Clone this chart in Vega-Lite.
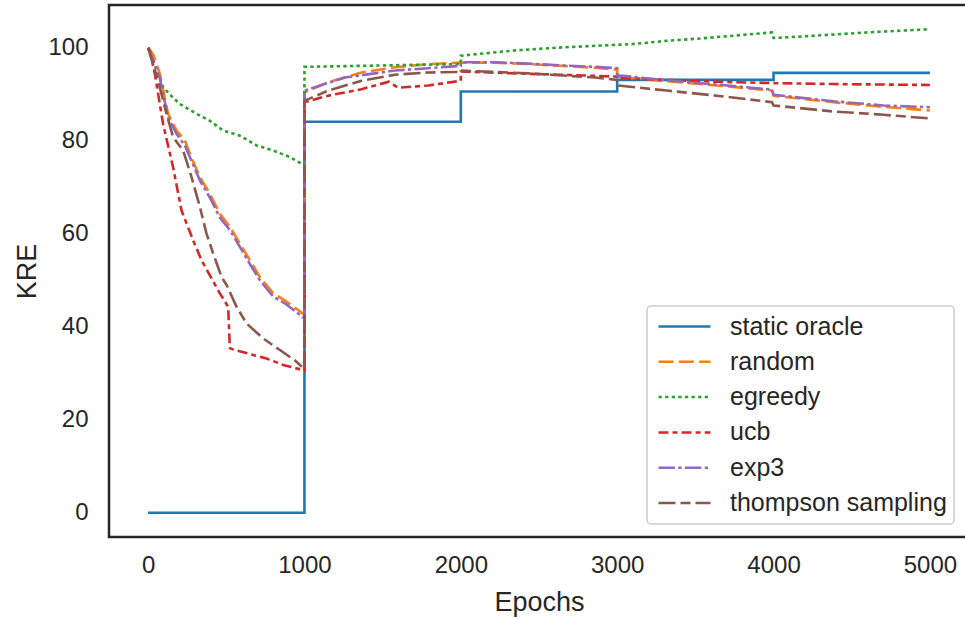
{
  "$schema": "https://vega.github.io/schema/vega-lite/v6.json",
  "autosize": {"type": "none"},
  "padding": {"left": 109, "top": 5, "right": 0, "bottom": 82},
  "width": 860,
  "height": 532,
  "background": "white",
  "config": {
    "view": {"stroke": "#262626", "strokeWidth": 2.5},
    "font": "Liberation Sans",
    "axis": {"grid": false, "domain": false, "ticks": false, "labelColor": "#262626", "titleColor": "#262626", "labelFont": "Liberation Sans", "titleFont": "Liberation Sans", "titleFontWeight": "normal"},
    "legend": {
      "symbolType": "stroke", "symbolSize": 2704, "symbolStrokeWidth": 2.5,
      "labelFontSize": 25, "labelColor": "#262626", "labelOffset": 18, "labelLimit": 400,
      "clipHeight": 27, "rowPadding": 8.3, "padding": 7, "symbolOffset": 3,
      "fillColor": "white", "strokeColor": "#cccccc", "cornerRadius": 4, "strokeWidth": 1.5
    }
  },
  "datasets": {
    "runs": [
      {"s":"static oracle","i":0,"e":0,"v":0},
      {"s":"static oracle","i":1,"e":1000,"v":0},
      {"s":"static oracle","i":2,"e":1000,"v":84.1},
      {"s":"static oracle","i":3,"e":2000,"v":84.1},
      {"s":"static oracle","i":4,"e":2000,"v":90.6},
      {"s":"static oracle","i":5,"e":3000,"v":90.6},
      {"s":"static oracle","i":6,"e":3000,"v":93.1},
      {"s":"static oracle","i":7,"e":4000,"v":93.1},
      {"s":"static oracle","i":8,"e":4000,"v":94.6},
      {"s":"static oracle","i":9,"e":5000,"v":94.6},

      {"s":"random","i":0,"e":0,"v":100},
      {"s":"random","i":1,"e":32,"v":98.6},
      {"s":"random","i":2,"e":75,"v":94.4},
      {"s":"random","i":3,"e":128,"v":85.8},
      {"s":"random","i":4,"e":182,"v":82.2},
      {"s":"random","i":5,"e":235,"v":80.1},
      {"s":"random","i":6,"e":267,"v":77.2},
      {"s":"random","i":7,"e":331,"v":72.2},
      {"s":"random","i":8,"e":395,"v":68.6},
      {"s":"random","i":9,"e":459,"v":64.3},
      {"s":"random","i":10,"e":523,"v":61.5},
      {"s":"random","i":11,"e":587,"v":57.9},
      {"s":"random","i":12,"e":651,"v":54.3},
      {"s":"random","i":13,"e":715,"v":50.7},
      {"s":"random","i":14,"e":800,"v":47.2},
      {"s":"random","i":15,"e":885,"v":45.4},
      {"s":"random","i":16,"e":1000,"v":42.6},
      {"s":"random","i":17,"e":1000,"v":90.4},
      {"s":"random","i":18,"e":1152,"v":92.6},
      {"s":"random","i":19,"e":1365,"v":94.7},
      {"s":"random","i":20,"e":1578,"v":95.8},
      {"s":"random","i":21,"e":1792,"v":96.5},
      {"s":"random","i":22,"e":2000,"v":96.8},
      {"s":"random","i":23,"e":2218,"v":96.8},
      {"s":"random","i":24,"e":2431,"v":96.5},
      {"s":"random","i":25,"e":2645,"v":96.1},
      {"s":"random","i":26,"e":2858,"v":95.7},
      {"s":"random","i":27,"e":3000,"v":95.3},
      {"s":"random","i":28,"e":3000,"v":93.8},
      {"s":"random","i":29,"e":3317,"v":92.8},
      {"s":"random","i":30,"e":3637,"v":91.9},
      {"s":"random","i":31,"e":3990,"v":90.8},
      {"s":"random","i":32,"e":4000,"v":89.7},
      {"s":"random","i":33,"e":4383,"v":88.3},
      {"s":"random","i":34,"e":4703,"v":87.3},
      {"s":"random","i":35,"e":5000,"v":86.5},

      {"s":"egreedy","i":0,"e":0,"v":100},
      {"s":"egreedy","i":1,"e":32,"v":97.2},
      {"s":"egreedy","i":2,"e":96,"v":91.5},
      {"s":"egreedy","i":3,"e":150,"v":89.6},
      {"s":"egreedy","i":4,"e":203,"v":87.9},
      {"s":"egreedy","i":5,"e":310,"v":85.8},
      {"s":"egreedy","i":6,"e":395,"v":84.3},
      {"s":"egreedy","i":7,"e":480,"v":82.2},
      {"s":"egreedy","i":8,"e":587,"v":81.1},
      {"s":"egreedy","i":9,"e":694,"v":79.0},
      {"s":"egreedy","i":10,"e":800,"v":77.9},
      {"s":"egreedy","i":11,"e":907,"v":76.5},
      {"s":"egreedy","i":12,"e":1000,"v":74.7},
      {"s":"egreedy","i":13,"e":1000,"v":95.9},
      {"s":"egreedy","i":14,"e":1500,"v":96.2},
      {"s":"egreedy","i":15,"e":2000,"v":96.5},
      {"s":"egreedy","i":16,"e":2000,"v":98.3},
      {"s":"egreedy","i":17,"e":2335,"v":99.4},
      {"s":"egreedy","i":18,"e":2655,"v":100.1},
      {"s":"egreedy","i":19,"e":2973,"v":100.6},
      {"s":"egreedy","i":20,"e":3101,"v":100.8},
      {"s":"egreedy","i":21,"e":3317,"v":101.5},
      {"s":"egreedy","i":22,"e":3530,"v":102.0},
      {"s":"egreedy","i":23,"e":3743,"v":102.6},
      {"s":"egreedy","i":24,"e":3990,"v":103.3},
      {"s":"egreedy","i":25,"e":4000,"v":102.1},
      {"s":"egreedy","i":26,"e":4169,"v":102.4},
      {"s":"egreedy","i":27,"e":4596,"v":103.3},
      {"s":"egreedy","i":28,"e":5000,"v":104.0},

      {"s":"ucb","i":0,"e":0,"v":100},
      {"s":"ucb","i":1,"e":11,"v":99.5},
      {"s":"ucb","i":2,"e":43,"v":94.4},
      {"s":"ucb","i":3,"e":96,"v":83.6},
      {"s":"ucb","i":4,"e":160,"v":74.3},
      {"s":"ucb","i":5,"e":214,"v":65.0},
      {"s":"ucb","i":6,"e":288,"v":58.6},
      {"s":"ucb","i":7,"e":342,"v":54.3},
      {"s":"ucb","i":8,"e":406,"v":50.4},
      {"s":"ucb","i":9,"e":459,"v":47.2},
      {"s":"ucb","i":10,"e":512,"v":44.3},
      {"s":"ucb","i":11,"e":523,"v":35.4},
      {"s":"ucb","i":12,"e":555,"v":35.0},
      {"s":"ucb","i":13,"e":757,"v":33.2},
      {"s":"ucb","i":14,"e":864,"v":31.8},
      {"s":"ucb","i":15,"e":1000,"v":30.6},
      {"s":"ucb","i":16,"e":1000,"v":88.3},
      {"s":"ucb","i":17,"e":1152,"v":89.7},
      {"s":"ucb","i":18,"e":1365,"v":91.1},
      {"s":"ucb","i":19,"e":1540,"v":92.7},
      {"s":"ucb","i":20,"e":1600,"v":91.4},
      {"s":"ucb","i":21,"e":1792,"v":91.9},
      {"s":"ucb","i":22,"e":2000,"v":92.9},
      {"s":"ucb","i":23,"e":2000,"v":94.9},
      {"s":"ucb","i":24,"e":2431,"v":94.4},
      {"s":"ucb","i":25,"e":2645,"v":94.2},
      {"s":"ucb","i":26,"e":3000,"v":93.8},
      {"s":"ucb","i":27,"e":3000,"v":93.5},
      {"s":"ucb","i":28,"e":3317,"v":93.1},
      {"s":"ucb","i":29,"e":3637,"v":92.7},
      {"s":"ucb","i":30,"e":4000,"v":92.4},
      {"s":"ucb","i":31,"e":4383,"v":92.2},
      {"s":"ucb","i":32,"e":5000,"v":92.0},

      {"s":"exp3","i":0,"e":0,"v":100},
      {"s":"exp3","i":1,"e":30,"v":97.5},
      {"s":"exp3","i":2,"e":75,"v":93.5},
      {"s":"exp3","i":3,"e":128,"v":85.0},
      {"s":"exp3","i":4,"e":182,"v":81.5},
      {"s":"exp3","i":5,"e":235,"v":79.0},
      {"s":"exp3","i":6,"e":267,"v":76.5},
      {"s":"exp3","i":7,"e":331,"v":71.5},
      {"s":"exp3","i":8,"e":395,"v":67.8},
      {"s":"exp3","i":9,"e":459,"v":63.5},
      {"s":"exp3","i":10,"e":523,"v":60.8},
      {"s":"exp3","i":11,"e":587,"v":57.2},
      {"s":"exp3","i":12,"e":651,"v":53.5},
      {"s":"exp3","i":13,"e":715,"v":50.0},
      {"s":"exp3","i":14,"e":800,"v":46.5},
      {"s":"exp3","i":15,"e":885,"v":44.8},
      {"s":"exp3","i":16,"e":1000,"v":41.8},
      {"s":"exp3","i":17,"e":1000,"v":90.8},
      {"s":"exp3","i":18,"e":1259,"v":93.6},
      {"s":"exp3","i":19,"e":1578,"v":95.1},
      {"s":"exp3","i":20,"e":2000,"v":96.1},
      {"s":"exp3","i":21,"e":2000,"v":96.9},
      {"s":"exp3","i":22,"e":2218,"v":96.9},
      {"s":"exp3","i":23,"e":2431,"v":96.6},
      {"s":"exp3","i":24,"e":2645,"v":96.2},
      {"s":"exp3","i":25,"e":2858,"v":95.9},
      {"s":"exp3","i":26,"e":3000,"v":95.6},
      {"s":"exp3","i":27,"e":3000,"v":94.1},
      {"s":"exp3","i":28,"e":3317,"v":93.0},
      {"s":"exp3","i":29,"e":3637,"v":92.1},
      {"s":"exp3","i":30,"e":3990,"v":91.0},
      {"s":"exp3","i":31,"e":4000,"v":89.9},
      {"s":"exp3","i":32,"e":4383,"v":88.5},
      {"s":"exp3","i":33,"e":4703,"v":87.6},
      {"s":"exp3","i":34,"e":5000,"v":87.2},

      {"s":"thompson sampling","i":0,"e":0,"v":100},
      {"s":"thompson sampling","i":1,"e":64,"v":92.9},
      {"s":"thompson sampling","i":2,"e":118,"v":85.8},
      {"s":"thompson sampling","i":3,"e":160,"v":80.8},
      {"s":"thompson sampling","i":4,"e":224,"v":77.9},
      {"s":"thompson sampling","i":5,"e":278,"v":72.2},
      {"s":"thompson sampling","i":6,"e":331,"v":65.8},
      {"s":"thompson sampling","i":7,"e":374,"v":60.0},
      {"s":"thompson sampling","i":8,"e":416,"v":55.8},
      {"s":"thompson sampling","i":9,"e":470,"v":50.7},
      {"s":"thompson sampling","i":10,"e":502,"v":49.0},
      {"s":"thompson sampling","i":11,"e":566,"v":44.3},
      {"s":"thompson sampling","i":12,"e":630,"v":40.7},
      {"s":"thompson sampling","i":13,"e":736,"v":37.5},
      {"s":"thompson sampling","i":14,"e":843,"v":35.0},
      {"s":"thompson sampling","i":15,"e":949,"v":32.5},
      {"s":"thompson sampling","i":16,"e":1000,"v":30.9},
      {"s":"thompson sampling","i":17,"e":1000,"v":88.6},
      {"s":"thompson sampling","i":18,"e":1152,"v":90.8},
      {"s":"thompson sampling","i":19,"e":1365,"v":92.9},
      {"s":"thompson sampling","i":20,"e":1578,"v":94.2},
      {"s":"thompson sampling","i":21,"e":1792,"v":94.7},
      {"s":"thompson sampling","i":22,"e":2000,"v":94.8},
      {"s":"thompson sampling","i":23,"e":2000,"v":95.1},
      {"s":"thompson sampling","i":24,"e":2431,"v":94.5},
      {"s":"thompson sampling","i":25,"e":2858,"v":93.6},
      {"s":"thompson sampling","i":26,"e":3000,"v":93.1},
      {"s":"thompson sampling","i":27,"e":3000,"v":91.9},
      {"s":"thompson sampling","i":28,"e":3317,"v":90.8},
      {"s":"thompson sampling","i":29,"e":3637,"v":89.7},
      {"s":"thompson sampling","i":30,"e":3990,"v":88.3},
      {"s":"thompson sampling","i":31,"e":4000,"v":87.6},
      {"s":"thompson sampling","i":32,"e":4383,"v":86.3},
      {"s":"thompson sampling","i":33,"e":4703,"v":85.6},
      {"s":"thompson sampling","i":34,"e":5000,"v":84.8}
    ]
  },
  "data": {"name": "runs"},
  "mark": {"type": "line", "strokeWidth": 2.6, "strokeCap": "butt", "clip": true},
  "encoding": {
    "x": {
      "field": "e", "type": "quantitative",
      "scale": {"domain": [-250, 5250], "nice": false, "zero": false},
      "axis": {"values": [0, 1000, 2000, 3000, 4000, 5000], "format": "d", "title": "Epochs", "labelFontSize": 24, "titleFontSize": 27, "labelPadding": 16, "titlePadding": 12, "labelFlush": false}
    },
    "y": {
      "field": "v", "type": "quantitative",
      "scale": {"domain": [-5.2, 109.2], "nice": false, "zero": false},
      "axis": {"values": [0, 20, 40, 60, 80, 100], "title": "KRE", "labelFontSize": 24, "titleFontSize": 27, "labelPadding": 21, "titlePadding": 6}
    },
    "order": {"field": "i", "type": "quantitative"},
    "color": {
      "field": "s", "type": "nominal",
      "scale": {
        "domain": ["static oracle", "random", "egreedy", "ucb", "exp3", "thompson sampling"],
        "range": ["#1f77b4", "#ff7f0e", "#2ca02c", "#d62728", "#9467bd", "#8c564b"]
      },
      "legend": {"title": null, "orient": "none", "legendX": 538, "legendY": 301}
    },
    "strokeDash": {
      "field": "s", "type": "nominal",
      "scale": {
        "domain": ["static oracle", "random", "egreedy", "ucb", "exp3", "thompson sampling"],
        "range": [[1, 0], [15, 5.3], [3.3, 3.3], [9.9, 4.1, 5, 4.1], [16.5, 3.3, 3.3, 3.3], [17, 5, 10, 5]]
      },
      "legend": {"title": null, "orient": "none", "legendX": 538, "legendY": 301}
    }
  }
}
